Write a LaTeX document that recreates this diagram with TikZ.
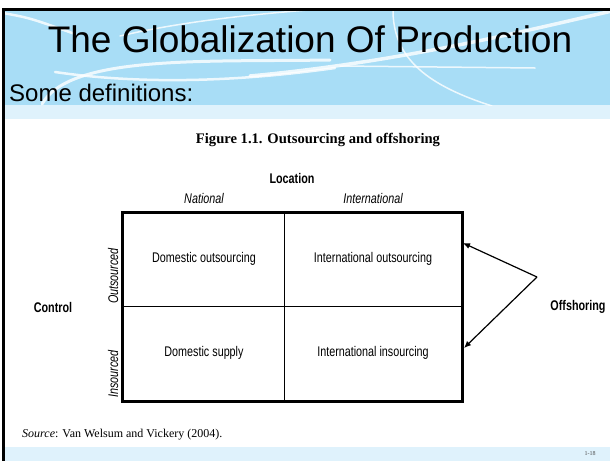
\documentclass[tikz,border=0pt]{standalone}
\usepackage{fontspec}
\setmainfont{Liberation Serif}
\setsansfont{Liberation Sans}
\newfontfamily\narrowsf{Liberation Sans}[FakeStretch=0.77]
\usetikzlibrary{arrows.meta}
\definecolor{hdrblue}{RGB}{168,221,246}
\definecolor{paleblue}{RGB}{223,242,252}
\tikzset{
  cell/.style={font=\narrowsf\fontsize{14}{16}\selectfont},
  axislab/.style={font=\narrowsf\bfseries\fontsize{14}{16}\selectfont},
  sidelab/.style={font=\narrowsf\itshape\fontsize{14}{16}\selectfont},
  swoosh/.style={white,line cap=round,opacity=0.8},
  offarrow/.style={line width=1.2pt,-{Latex[length=7pt,width=6pt]}}
}
\begin{document}
\begin{tikzpicture}[x=1pt,y=-1pt]
  \useasboundingbox (0,0) rectangle (610,461);
  \fill[white] (0,0) rectangle (610,461);
  % header band and the thin pale strips
  \fill[hdrblue] (3,9) rectangle (610,105);
  \fill[paleblue] (3,105) rectangle (610,119);
  \fill[paleblue] (3,447) rectangle (610,461);
  \begin{scope}
    \clip (3,9) rectangle (610,105);
    \draw[swoosh,line width=2.5pt] (3,13) .. controls (30,18) .. (75,34);
    \draw[swoosh,line width=1.5pt] (120,36) .. controls (180,22) and (250,14) .. (335,8);
    \draw[swoosh,line width=3pt] (42,104) .. controls (70,55) and (200,62) .. (330,60);
    \draw[swoosh,line width=2.5pt] (55,72) .. controls (150,86) and (250,80) .. (335,68);
    \draw[swoosh,line width=3.5pt] (250,76) .. controls (400,62) and (520,32) .. (612,11);
    \draw[swoosh,line width=1.5pt] (340,66) -- (535,68);
    \draw[swoosh,line width=1.5pt] (393,8) .. controls (392,60) and (430,86) .. (492,106);
  \end{scope}
  \draw[line width=3pt] (2,9) -- (610,9);
  \draw[line width=3pt] (3,8) -- (3,461);
  \node[font=\sffamily\fontsize{37}{40}\selectfont,anchor=base] (title) at (310,52) {The Globalization Of Production};
  \node[font=\sffamily\fontsize{24}{26}\selectfont,anchor=base west,inner sep=0] (defs) at (9,101) {Some definitions:};

  % caption of the figure
  \node[font=\bfseries\fontsize{14.6}{16}\selectfont,anchor=base] (fig) at (318,143) {Figure 1.1. Outsourcing and offshoring};
  \node[axislab,anchor=base] (loc) at (292,183) {Location};
  \node[sidelab,anchor=base] (nat) at (204,203) {National};
  \node[sidelab,anchor=base] (intl) at (373,203) {International};

  % two by two grid
  \draw[line width=0.7pt] (284,212) -- (284,401);
  \draw[line width=0.7pt] (122,306) -- (462,306);
  \draw[line width=3pt] (122,212) rectangle (462,401);
  \node[cell] (domout) at (204,259) {Domestic outsourcing};
  \node[cell] (intout) at (373,259) {International outsourcing};
  \node[cell] (domsup) at (204,353) {Domestic supply};
  \node[cell] (intins) at (373,353) {International insourcing};
  \node[sidelab,rotate=90,anchor=west,inner sep=0] (outs) at (113,304) {Outsourced};
  \node[sidelab,rotate=90,anchor=west,inner sep=0] (ins) at (113,398) {Insourced};
  \node[axislab] (ctrl) at (53,307) {Control};
  \node[axislab] (offs) at (578,307) {Offshoring};

  % the offshoring bracket
  \coordinate (apex) at (537,277);
  \coordinate (tipup) at (463,243);
  \coordinate (tipdown) at (464,348);
  \draw[offarrow] (apex) -- (tipup);
  \draw[offarrow] (apex) -- (tipdown);

  \node[font=\fontsize{12}{14}\selectfont,anchor=base west,inner sep=0] (src) at (22,437) {\textit{Source}: Van Welsum and Vickery (2004).};
  \node[font=\fontsize{6}{7}\selectfont,text=black!70] (page) at (590,454) {1-18};
\end{tikzpicture}
\end{document}
